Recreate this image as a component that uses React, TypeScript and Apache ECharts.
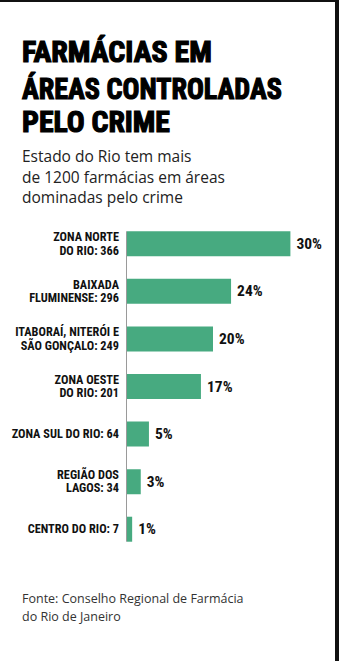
import React, { useEffect, useRef } from "react";
import * as echarts from "echarts";

// ---- data ----
const categories = [
  "ZONA NORTE\nDO RIO: 366",
  "BAIXADA\nFLUMINENSE: 296",
  "ITABORAÍ, NITERÓI E\nSÃO GONÇALO: 249",
  "ZONA OESTE\nDO RIO: 201",
  "ZONA SUL DO RIO: 64",
  "REGIÃO DOS\nLAGOS: 34",
  "CENTRO DO RIO: 7",
];
const shareLabels = ["30%", "24%", "20%", "17%", "5%", "3%", "1%"];
// bar lengths as drawn in the source graphic (the first bar is drawn longer than its share)
const barLengths = [38, 24.2, 20, 17.2, 5.1, 3.2, 1.2];
const titleLines = ["FARMÁCIAS EM", "ÁREAS CONTROLADAS", "PELO CRIME"];
const subtitleLines = [
  "Estado do Rio tem mais",
  "de 1200 farmácias em áreas",
  "dominadas pelo crime",
];
const sourceLines = [
  "Fonte: Conselho Regional de Farmácia",
  "do Rio de Janeiro",
];

const COND = "'Roboto Condensed', 'DejaVu Sans Condensed', sans-serif";
const TITLE_FONT = "'Roboto Condensed', Roboto, sans-serif";
const SANS = "'Open Sans', 'Noto Sans', sans-serif";
const GREEN = "#47aa80";
const BAR_W = 25;

// layout of the title lines (target widths from the source)
const titleY = [51, 89, 121.5];
const titleW = [190, 260, 148];
const TITLE_SIZE = 30;

function measure(text: string, font: string): number {
  const c = document.createElement("canvas");
  const ctx = c.getContext("2d");
  if (!ctx) return 0;
  ctx.font = font;
  return ctx.measureText(text).width;
}

export default function App() {
  const ref = useRef<HTMLDivElement>(null);
  useEffect(() => {
    if (!ref.current) return;
    const chart = echarts.init(ref.current, null, { renderer: "svg" });
    const titleGraphic = titleLines.map((t, i) => {
      const w = measure(t, `bold ${TITLE_SIZE}px ${TITLE_FONT}`) || titleW[i];
      return {
        id: "title" + i,
        type: "text",
        x: 22,
        y: titleY[i],
        scaleX: titleW[i] / w,
        style: {
          text: t,
          fontFamily: TITLE_FONT,
          fontWeight: "bold",
          fontSize: TITLE_SIZE,
          fill: "#000",
          stroke: "#000",
          lineWidth: 1.2,
          align: "left",
          verticalAlign: "middle",
        },
      };
    });
    const baseGraphic: any[] = [
      { id: "topband", type: "rect", shape: { x: 0, y: 0, width: 339, height: 2 }, style: { fill: "#111" } },
      { id: "rightband", type: "rect", shape: { x: 335, y: 0, width: 4, height: 661 }, style: { fill: "#111" } },
      ...titleGraphic,
      {
        id: "subtitle",
        type: "text",
        x: 22,
        y: 146,
        style: {
          text: subtitleLines.join("\n"),
          fontFamily: SANS,
          fontSize: 15.5,
          lineHeight: 20.5,
          fill: "#222",
          align: "left",
          verticalAlign: "top",
        },
      },
      {
        id: "source",
        type: "text",
        x: 22,
        y: 589,
        style: {
          text: sourceLines.join("\n"),
          fontFamily: SANS,
          fontSize: 12.5,
          lineHeight: 18.5,
          fill: "#333",
          align: "left",
          verticalAlign: "top",
        },
      },
    ];
    chart.setOption({
      animation: false,
      backgroundColor: "#fff",
      grid: { left: 127, width: 172, top: 220, height: 333 },
      xAxis: { type: "value", min: 0, max: 40, show: false },
      yAxis: {
        type: "category",
        data: categories,
        inverse: true,
        axisLine: { show: false },
        axisTick: { show: false },
        splitLine: { show: false },
        axisLabel: {
          margin: 8,
          fontFamily: COND,
          fontWeight: "bold",
          fontSize: 12.3,
          lineHeight: 13.5,
          color: "#111",
        },
      },
      series: [
        {
          type: "bar",
          data: barLengths,
          barWidth: BAR_W,
          itemStyle: { color: GREEN },
          label: {
            show: true,
            position: "right",
            distance: 6,
            formatter: (p: any) => shareLabels[p.dataIndex],
            fontFamily: COND,
            fontWeight: "bold",
            fontSize: 15.5,
            color: "#111",
          },
        },
      ],
      graphic: baseGraphic,
    });
    const x0 = chart.convertToPixel({ xAxisIndex: 0 }, 0) as number;
    const yFirst = chart.convertToPixel({ yAxisIndex: 0 }, categories[0]) as number;
    const yLast = chart.convertToPixel({ yAxisIndex: 0 }, categories[categories.length - 1]) as number;
    chart.setOption({
      graphic: [
        ...baseGraphic,
        {
          id: "axisline",
          type: "line",
          z: 0,
          shape: { x1: x0 - 0.5, y1: yFirst - BAR_W / 2, x2: x0 - 0.5, y2: yLast + BAR_W / 2 },
          style: { stroke: "#9a9a9a", lineWidth: 1 },
        },
      ],
    });
    return () => chart.dispose();
  }, []);
  return (
    <div
      ref={ref}
      style={{ position: "fixed", left: 0, top: 0, width: 339, height: 661, background: "#fff" }}
    />
  );
}
